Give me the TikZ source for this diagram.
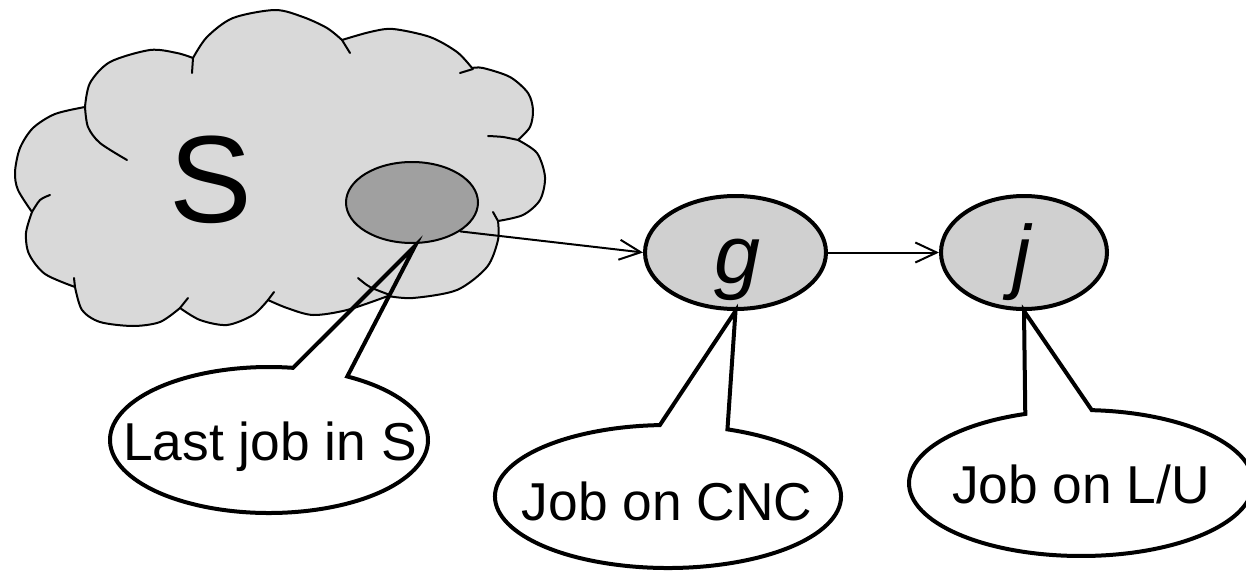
\documentclass[tikz,border=0pt]{standalone}
\usepackage{fontspec}
\setmainfont{Liberation Sans}
\usetikzlibrary{arrows.meta,shapes.geometric}
\definecolor{cloudgray}{RGB}{217,217,217}
\definecolor{jobgray}{RGB}{208,208,208}
\definecolor{lastgray}{RGB}{160,160,160}

\begin{document}
\begin{tikzpicture}[x=0.75pt,y=-0.75pt,
  cloudline/.style={line width=1.5pt, line join=round, line cap=round},
  jobnode/.style={ellipse, draw, line width=3pt, fill=jobgray, inner sep=0pt, minimum height=84.75pt},
  flow/.style={line width=1.5pt, -{Straight Barb[length=16pt,width=15pt]}},
  callout/.style={line width=3pt, line join=miter},
  bigtxt/.style={font=\fontsize{62}{70}\selectfont\itshape, anchor=base, inner sep=0pt},
  calltxt/.style={font=\fontsize{40}{48}\selectfont, anchor=base, inner sep=0pt}]

\useasboundingbox (0,0) rectangle (1246,571);

% cloud outline, one smooth arc per puff
\filldraw[cloudline, fill=cloudgray]
  plot[smooth] coordinates {(32,212) (18,190) (15,172) (20,148) (33,128) (55,114) (85,107)}
  -- plot[smooth] coordinates {(85,107) (90,83) (110,62) (150,50) (177,53) (193,58)}
  -- plot[smooth] coordinates {(193,58) (207,37) (233,18) (275,10) (303,17) (327,28) (342,40)}
  -- plot[smooth] coordinates {(342,40) (370,32) (393,29) (430,37) (457,52) (472,68)}
  -- plot[smooth] coordinates {(472,68) (483,68) (510,77) (528,93) (533,110) (530,127) (518,140)}
  -- plot[smooth] coordinates {(518,140) (537,153) (545,177) (540,200) (523,215) (498,221)}
  -- plot[smooth] coordinates {(498,221) (498,240) (487,267) (457,290) (413,298) (388,296)}
  -- plot[smooth] coordinates {(388,296) (347,310) (313,315) (287,308) (268,300)}
  -- plot[smooth] coordinates {(268,300) (253,315) (227,325) (200,320) (180,308)}
  -- plot[smooth] coordinates {(180,308) (160,322) (133,326) (100,322) (82,310) (75,287)}
  -- plot[smooth] coordinates {(75,287) (45,274) (29,254) (26,233) (32,212)}
  -- cycle;

% inner ends of the puffs
\draw[cloudline] plot[smooth] coordinates {(85,107) (88,127) (100,143) (127,160)};
\draw[cloudline] (192,73) -- (193,58);
\draw[cloudline] (342,40) -- (350,53);
\draw[cloudline] (460,73) -- (473,69);
\draw[cloudline] plot[smooth] coordinates {(488,136) (503,137) (518,140)};
\draw[cloudline] (493,212) -- (498,221);
\draw[cloudline] plot[smooth] coordinates {(390,295) (370,287) (358,278)};
\draw[cloudline] (268,300) -- (274,292);
\draw[cloudline] (180,308) -- (188,298);
\draw[cloudline] (75,287) -- (74,278);
\draw[cloudline] plot[smooth] coordinates {(32,212) (40,200) (50,195)};

% set S and its last job
\node[anchor=base, inner sep=0pt, font=\fontsize{93}{100}\selectfont] (setS) at (211,222) {S};
\node[ellipse, draw, line width=1.5pt, fill=lastgray, minimum width=99pt,
      minimum height=60.75pt, inner sep=0pt] (last) at (412,202.5) {};

% jobs g and j
\node[jobnode, minimum width=135.75pt] (g) at (735.5,252.5) {};
\node[jobnode, minimum width=124.5pt] (j) at (1024,252.5) {};
\node[bigtxt] (glabel) at (737,283) {g};
\node[bigtxt] (jlabel) at (1022,283) {j};

\draw[flow] (last.-31) -- (g.west);
\draw[flow] (g.east) -- (j.west);

% callouts
\coordinate (c1) at (269,440);
\coordinate (tip1) at (415,246);
\draw[callout] (tip1) -- ([shift={(-60.5:159 and 73)}]c1)
  arc[start angle=-60.5, end angle=278.7, x radius=159, y radius=73] -- cycle;

\coordinate (c2) at (668,496.5);
\draw[callout] (g.south) -- ([shift={(-69.9:173 and 71.5)}]c2)
  arc[start angle=-69.9, end angle=267.3, x radius=173, y radius=71.5] -- cycle;

\coordinate (c3) at (1081,483);
\draw[callout] (j.south) -- ([shift={(-86.4:172 and 73)}]c3)
  arc[start angle=-86.4, end angle=251.1, x radius=172, y radius=73] -- cycle;

\node[calltxt] (t1) at (270,460) {Last job in S};
\node[calltxt] (t2) at (667,520) {Job on CNC};
\node[calltxt] (t3) at (1081,503) {Job on L/U};
\end{tikzpicture}
\end{document}
